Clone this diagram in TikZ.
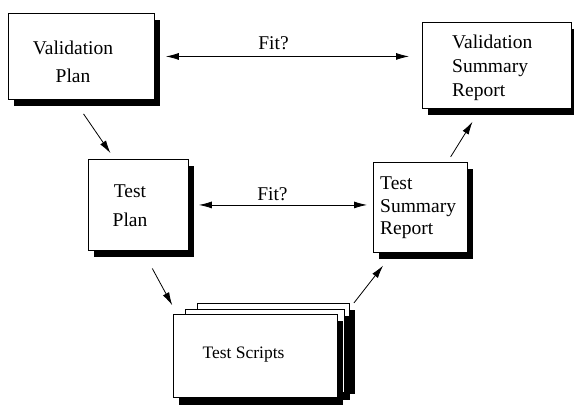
\documentclass[tikz,border=0pt]{standalone}
\usepackage{fontspec}
\setmainfont{Liberation Serif}
\newfontfamily\tnrfont{Liberation Serif}
\usetikzlibrary{arrows.meta,shadows}
\begin{document}
\begin{tikzpicture}[x=1pt,y=-1pt,
  box/.style={draw=black, line width=0.9pt, fill=white, rectangle, inner sep=0pt,
    anchor=north west,
    drop shadow={shadow xshift=6pt, shadow yshift=-7pt, fill=black, opacity=1}},
  card/.style={box, drop shadow={shadow xshift=6pt, shadow yshift=-8pt, fill=black, opacity=1}},
  txt/.style={font=\tnrfont\fontsize{19.5}{24}\selectfont, inner sep=0pt},
  conn/.style={line width=0.8pt, -{Latex[length=13pt,width=7pt]}},
  fitarrow/.style={line width=0.8pt, {Latex[length=13pt,width=7pt]}-{Latex[length=13pt,width=7pt]}}]
\useasboundingbox (0,0) rectangle (574,407);

% boxes
\node[box, minimum width=146pt, minimum height=86pt] (vp) at (8,13) {};
\node[box, minimum width=149pt, minimum height=86pt] (vsr) at (422,22) {};
\node[box, minimum width=100pt, minimum height=91pt] (tp) at (88,159) {};
\node[box, minimum width=94pt, minimum height=90pt] (tsr) at (373,162) {};
\node[card, minimum width=152pt, minimum height=83pt] (c3) at (197,303) {};
\node[card, minimum width=159pt, minimum height=83pt] (c2) at (185,309) {};
\node[card, minimum width=164pt, minimum height=83pt] (c1) at (173,314) {};

% texts
\node[txt, align=center, font=\tnrfont\fontsize{19.5}{28}\selectfont] (vpt) at (73,62) {Validation\\Plan};
\node[txt, align=center, font=\tnrfont\fontsize{19.5}{29}\selectfont] (tpt) at (130,206) {Test\\Plan};
\node[txt, align=left, anchor=west, font=\tnrfont\fontsize{19.5}{24}\selectfont] (vsrt) at (452,68) {Validation\\Summary\\Report};
\node[txt, align=left, anchor=west, font=\tnrfont\fontsize{19.5}{22.5}\selectfont] (tsrt) at (380,208) {Test\\Summary\\Report};
\node[txt, anchor=base, font=\tnrfont\fontsize{17.5}{21}\selectfont] (tst) at (243.5,358) {Test Scripts};

% fit arrows
\draw[fitarrow, shorten <=11pt, shorten >=13pt] (vp.east) -- (vp.east -| vsr.west)
  node[txt, pos=0.444, anchor=base, yshift=7pt] (fit1) {Fit?};
\draw[fitarrow, shorten <=10pt, shorten >=6pt] (tp.east) -- (tp.east -| tsr.west)
  node[txt, pos=0.454, anchor=base, yshift=4.5pt] (fit2) {Fit?};

% flow arrows
\draw[conn, shorten <=17pt, shorten >=7pt] ([xshift=-7.5pt]vp.south) -- ([xshift=-24pt]tp.north);
\draw[conn, shorten <=20pt, shorten >=10pt] ([xshift=4.3pt]tp.south) -- ([xshift=4pt]c1.north west);
\draw[conn, shorten >=16pt] ([xshift=4pt]c3.north east) -- ([xshift=20pt]tsr.south west);
\draw[conn, shorten <=6pt, shorten >=15pt] ([xshift=27pt]tsr.north) -- ([xshift=-16.5pt]vsr.south);
\end{tikzpicture}
\end{document}
